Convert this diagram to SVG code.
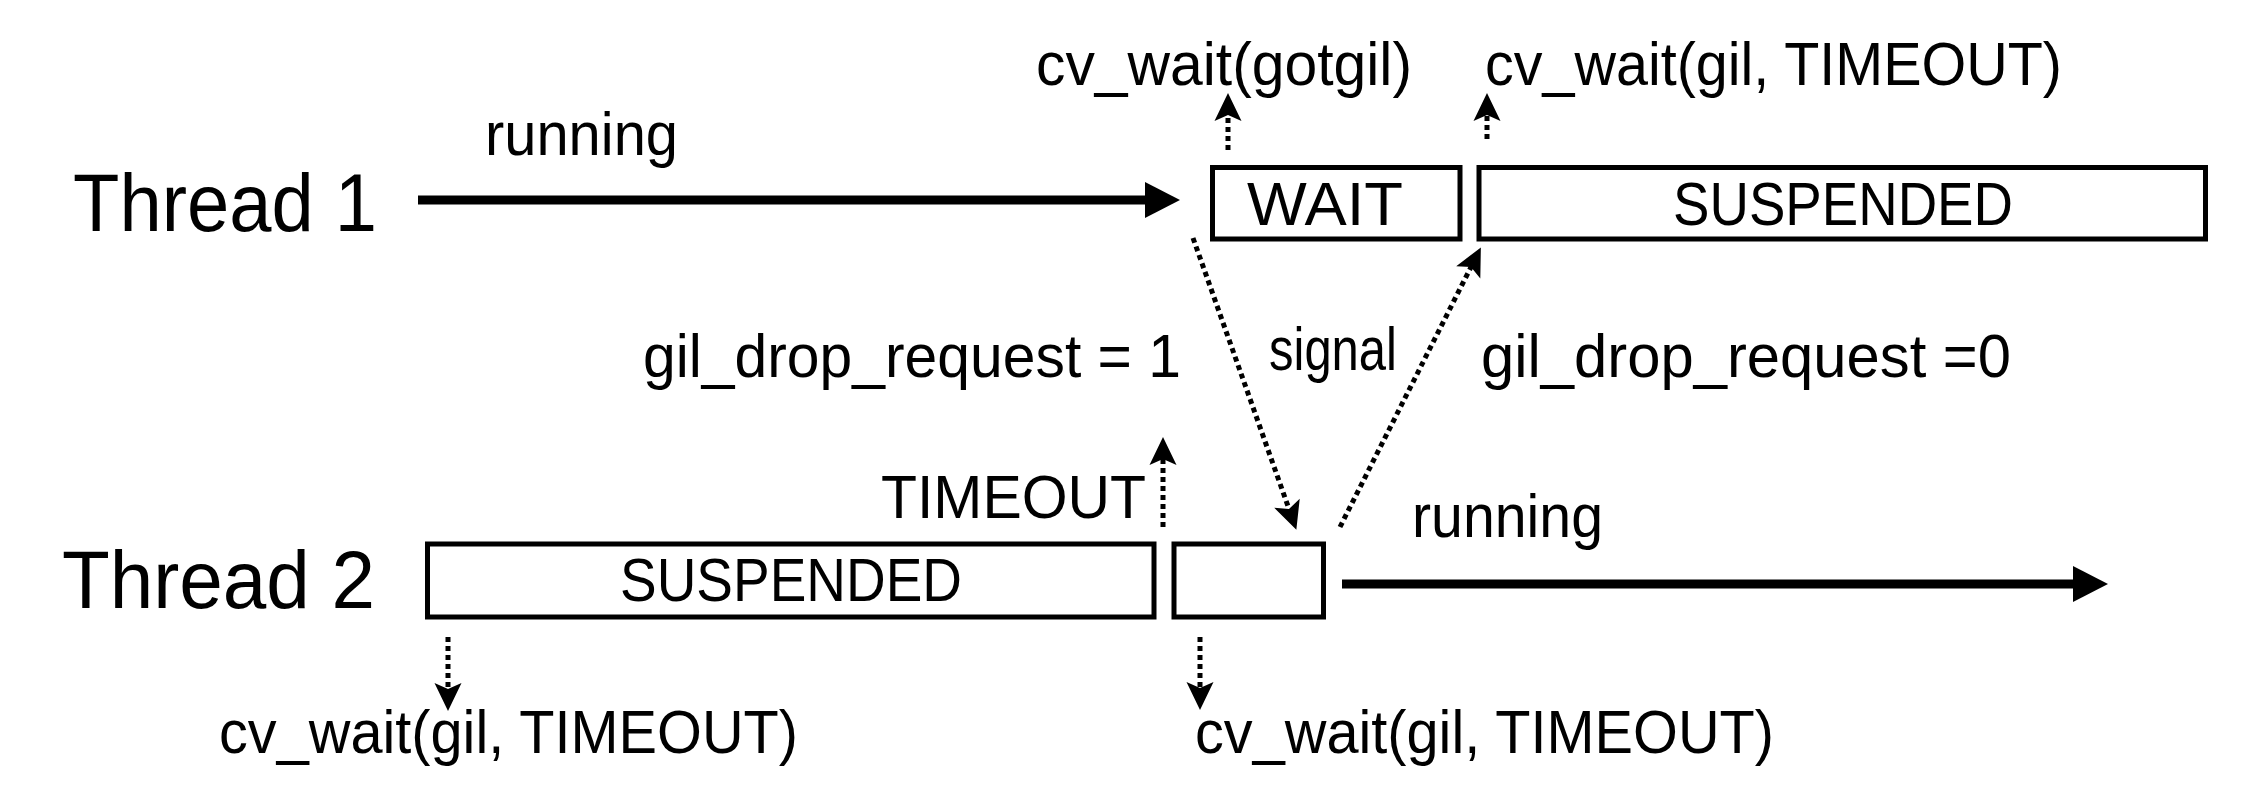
<svg xmlns="http://www.w3.org/2000/svg" width="2242" height="806" viewBox="0 0 2242 806">
<style>
text{font-family:"Liberation Sans",Arial,sans-serif;fill:#000}
.lbl{font-size:61px}
.thr{font-size:82px}
.box{fill:#fff;stroke:#000;stroke-width:5}
.solid{stroke:#000;stroke-width:9;fill:none}
.dash{stroke:#000;stroke-width:5;stroke-dasharray:5 4;fill:none}
</style>
<defs>
<marker id="tri" markerUnits="userSpaceOnUse" markerWidth="36" markerHeight="36" refX="1" refY="18" orient="auto" overflow="visible">
<path d="M0,0 L35,18 L0,36 z" fill="#000"/>
</marker>
<marker id="notch" markerUnits="userSpaceOnUse" markerWidth="28" markerHeight="27" refX="15" refY="13.5" orient="auto" overflow="visible">
<path d="M0,0 L28,13.5 L0,27 L6,13.5 z" fill="#000"/>
</marker>
</defs>
<rect width="2242" height="806" fill="#fff"/>

<g id="thread1-label"><text class="thr" x="73" y="231" textLength="304" lengthAdjust="spacingAndGlyphs">Thread 1</text></g>
<g id="thread2-label"><text class="thr" x="62" y="608" textLength="313" lengthAdjust="spacingAndGlyphs">Thread 2</text></g>

<g id="wait-box"><rect class="box" x="1212.5" y="167.5" width="247.5" height="71.5"/><text class="lbl" x="1325" y="225" text-anchor="middle" textLength="156" lengthAdjust="spacingAndGlyphs">WAIT</text></g>
<g id="suspended-top"><rect class="box" x="1479" y="167.5" width="726.5" height="71.5"/><text class="lbl" x="1843" y="225" text-anchor="middle" textLength="340" lengthAdjust="spacingAndGlyphs">SUSPENDED</text></g>
<g id="suspended-bottom"><rect class="box" x="427.5" y="544" width="726.5" height="73"/><text class="lbl" x="791" y="601" text-anchor="middle" textLength="342" lengthAdjust="spacingAndGlyphs">SUSPENDED</text></g>
<g id="small-box"><rect class="box" x="1174" y="544" width="149.5" height="73"/></g>

<g id="labels">
<text class="lbl" x="485" y="155" textLength="193" lengthAdjust="spacingAndGlyphs">running</text>
<text class="lbl" x="1036" y="85" textLength="376" lengthAdjust="spacingAndGlyphs">cv_wait(gotgil)</text>
<text class="lbl" x="1485" y="85" textLength="577" lengthAdjust="spacingAndGlyphs">cv_wait(gil, TIMEOUT)</text>
<text class="lbl" x="643" y="377" textLength="538" lengthAdjust="spacingAndGlyphs">gil_drop_request = 1</text>
<text class="lbl" x="1269" y="370" textLength="128" lengthAdjust="spacingAndGlyphs">signal</text>
<text class="lbl" x="1481" y="377" textLength="530" lengthAdjust="spacingAndGlyphs">gil_drop_request =0</text>
<text class="lbl" x="881" y="518" textLength="265" lengthAdjust="spacingAndGlyphs">TIMEOUT</text>
<text class="lbl" x="1412" y="537" textLength="191" lengthAdjust="spacingAndGlyphs">running</text>
<text class="lbl" x="219" y="753" textLength="579" lengthAdjust="spacingAndGlyphs">cv_wait(gil, TIMEOUT)</text>
<text class="lbl" x="1195" y="753" textLength="579" lengthAdjust="spacingAndGlyphs">cv_wait(gil, TIMEOUT)</text>
</g>

<g id="connectors">
<line class="solid" x1="418" y1="200" x2="1146" y2="200" marker-end="url(#tri)"/>
<line class="solid" x1="1342" y1="584" x2="2074" y2="584" marker-end="url(#tri)"/>
<line class="dash" x1="1228" y1="150" x2="1228" y2="106" marker-end="url(#notch)"/>
<line class="dash" x1="1487" y1="139" x2="1487" y2="106" marker-end="url(#notch)"/>
<line class="dash" x1="1163" y1="527" x2="1163" y2="450" marker-end="url(#notch)"/>
<line class="dash" x1="448" y1="637" x2="448" y2="698" marker-end="url(#notch)"/>
<line class="dash" x1="1200" y1="637" x2="1200" y2="697" marker-end="url(#notch)"/>
<line class="dash" x1="1193" y1="238" x2="1292" y2="517.5" marker-end="url(#notch)"/>
<line class="dash" x1="1340" y1="527" x2="1475" y2="259" marker-end="url(#notch)"/>
</g>
</svg>
